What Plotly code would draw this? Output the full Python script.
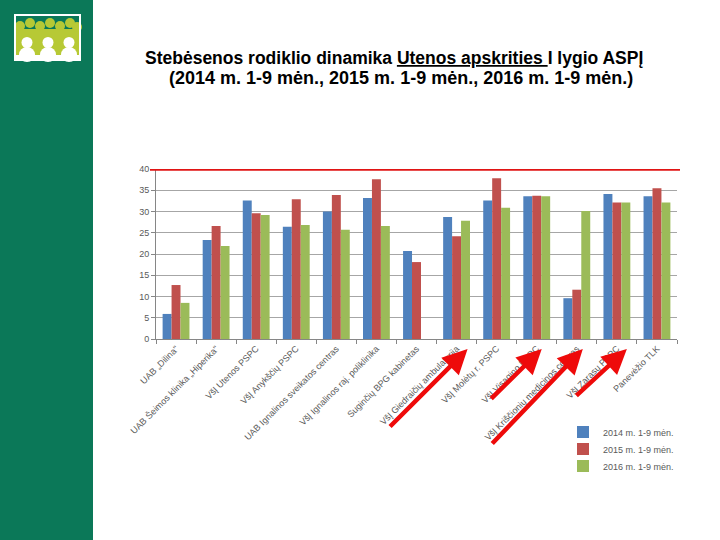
import plotly.graph_objects as go

# data (sparse values, 1-9 months of each year)
institutions = [
    'UAB „Dilina"',
    'UAB Šeimos klinika „Hiperika"',
    'VšĮ Utenos PSPC',
    'VšĮ Anykščių PSPC',
    'UAB Ignalinos sveikatos centras',
    'VšĮ Ignalinos raj. poliklinika',
    'Suginčių BPG kabinetas',
    'VšĮ Giedraičių ambulatorija',
    'VšĮ Molėtų r. PSPC',
    'VšĮ Visagino PSPC',
    'VšĮ Kriščionių medicinos centras',
    'VšĮ Zarasų PSPC',
    'Panevėžio TLK',
]
v2014 = [5.9, 23.3, 32.6, 26.4, 30.0, 33.2, 20.7, 28.7, 32.6, 33.6, 9.6, 34.1, 33.6]
v2015 = [12.7, 26.6, 29.6, 32.9, 33.9, 37.6, 18.1, 24.2, 37.8, 33.7, 11.6, 32.1, 35.5]
v2016 = [8.5, 21.9, 29.2, 26.8, 25.7, 26.6, None, 27.8, 30.9, 33.6, 30.1, 32.1, 32.1]
series_names = ['2014 m. 1-9 mėn.', '2015 m. 1-9 mėn.', '2016 m. 1-9 mėn.']
target_value = 40
arrow_targets = ['VšĮ Giedraičių ambulatorija', 'VšĮ Visagino PSPC',
                 'VšĮ Kriščionių medicinos centras', 'VšĮ Zarasų PSPC']

W, H = 720, 540
ML, MR, MT, MB = 156, 43, 169, 201
PW, PH = W - ML - MR, H - MT - MB


def px(x):
    return (x - ML) / PW


def py(y):
    return (H - MB - y) / PH


colors = ['#4f81bd', '#c0504d', '#9bbb59']
legend_ids = ['legend', 'legend2', 'legend3']
data = []
for name, vals, col, lg in zip(series_names, [v2014, v2015, v2016], colors, legend_ids):
    data.append(go.Bar(x=institutions, y=vals, name=name, legend=lg,
                       marker=dict(color=col, line=dict(width=0))))

GREEN = '#0b7858'
YEL = '#b7c935'
shapes = [
    # left green band of the slide
    dict(type='rect', xref='paper', yref='paper', x0=px(0), x1=px(93), y0=py(540), y1=py(0),
         fillcolor=GREEN, line_width=0, layer='below'),
    # logo
    dict(type='rect', xref='paper', yref='paper', x0=px(14), x1=px(81), y0=py(61), y1=py(14),
         fillcolor='white', line_width=0),
    dict(type='rect', xref='paper', yref='paper', x0=px(16), x1=px(79), y0=py(58), y1=py(16),
         fillcolor=GREEN, line_width=0),
    dict(type='rect', xref='paper', yref='paper', x0=px(16), x1=px(79), y0=py(58), y1=py(29),
         fillcolor=YEL, line_width=0),
]
for cx, cy in [(20, 26), (30, 23), (40, 26), (50, 23), (60, 26), (70, 23), (77, 27)]:
    shapes.append(dict(type='circle', xref='paper', yref='paper', x0=px(cx - 5), x1=px(cx + 5),
                       y0=py(cy + 5), y1=py(cy - 5), fillcolor=YEL, line_width=0))
for cx in [27, 48, 69]:
    shapes.append(dict(type='circle', xref='paper', yref='paper', x0=px(cx - 8), x1=px(cx + 8),
                       y0=py(62), y1=py(47), fillcolor='white', line_width=0))
    shapes.append(dict(type='circle', xref='paper', yref='paper', x0=px(cx - 5.5), x1=px(cx + 5.5),
                       y0=py(48), y1=py(37), fillcolor='white', line_width=0))
shapes += [
    dict(type='rect', xref='paper', yref='paper', x0=px(16), x1=px(79), y0=py(61), y1=py(55),
         fillcolor='white', line_width=0),
    dict(type='rect', xref='paper', yref='paper', x0=px(14), x1=px(16), y0=py(61), y1=py(14),
         fillcolor='white', line_width=0),
    dict(type='rect', xref='paper', yref='paper', x0=px(79), x1=px(81), y0=py(61), y1=py(14),
         fillcolor='white', line_width=0),
    # red target line at 40
    dict(type='line', xref='paper', yref='y', x0=px(150), x1=px(680), y0=target_value, y1=target_value,
         line=dict(color='#e01414', width=3.5)),
]

title_font = dict(family='Liberation Sans', size=17.5, color='black', weight='bold')
annotations = [
    dict(text='Stebėsenos rodiklio dinamika <u>Utenos apskrities </u>I lygio ASPĮ',
         xref='paper', yref='paper', x=px(394), y=py(58), xanchor='center', yanchor='middle',
         showarrow=False, font=title_font),
    dict(text='(2014 m. 1-9 mėn., 2015 m. 1-9 mėn., 2016 m. 1-9 mėn.)',
         xref='paper', yref='paper', x=px(401), y=py(78), xanchor='center', yanchor='middle',
         showarrow=False, font=dict(title_font, size=18)),
]
arrow_geom = [(-79, 79, 11), (-52, 51, 5), (-92, 96, 6), (-52, 48, 10)]
for cat, (ax, ay, xs) in zip(arrow_targets, arrow_geom):
    annotations.append(dict(x=cat, xref='x', y=py(349), yref='paper', text='', showarrow=True,
                            ax=ax, ay=ay, xshift=xs, arrowhead=2, arrowsize=1.1, arrowwidth=4.5,
                            arrowcolor='#ee0a0a', standoff=0, startstandoff=0))

legend_style = dict(xanchor='left', yanchor='middle', font=dict(size=9, color='#595959'),
                    itemwidth=30, bgcolor='rgba(0,0,0,0)')

fig = go.Figure(data=data)
fig.update_layout(
    width=W, height=H,
    margin=dict(l=ML, r=MR, t=MT, b=MB),
    paper_bgcolor='white', plot_bgcolor='white',
    barmode='group', bargap=0.33, bargroupgap=0,
    font=dict(family='Liberation Sans', size=9, color='#595959'),
    showlegend=True,
    legend=dict(x=px(563), y=py(432), **legend_style),
    legend2=dict(x=px(563), y=py(449), **legend_style),
    legend3=dict(x=px(563), y=py(466), **legend_style),
    shapes=shapes,
    annotations=annotations,
)
fig.update_xaxes(tickangle=-45, showline=True, linecolor='#868686', ticks='outside',
                 tickson='boundaries', ticklen=4, tickcolor='#868686', showgrid=False,
                 tickfont=dict(size=9, color='#595959'), fixedrange=True)
fig.update_yaxes(range=[0, 40], dtick=5, showline=True, linecolor='#868686', ticks='outside',
                 ticklen=4, tickcolor='#868686', gridcolor='#a6a6a6', gridwidth=1,
                 zeroline=False, tickfont=dict(size=9, color='#595959'), fixedrange=True)

fig.write_html('out.html', config={'displayModeBar': False},
               post_script="document.body.style.margin='0';")
